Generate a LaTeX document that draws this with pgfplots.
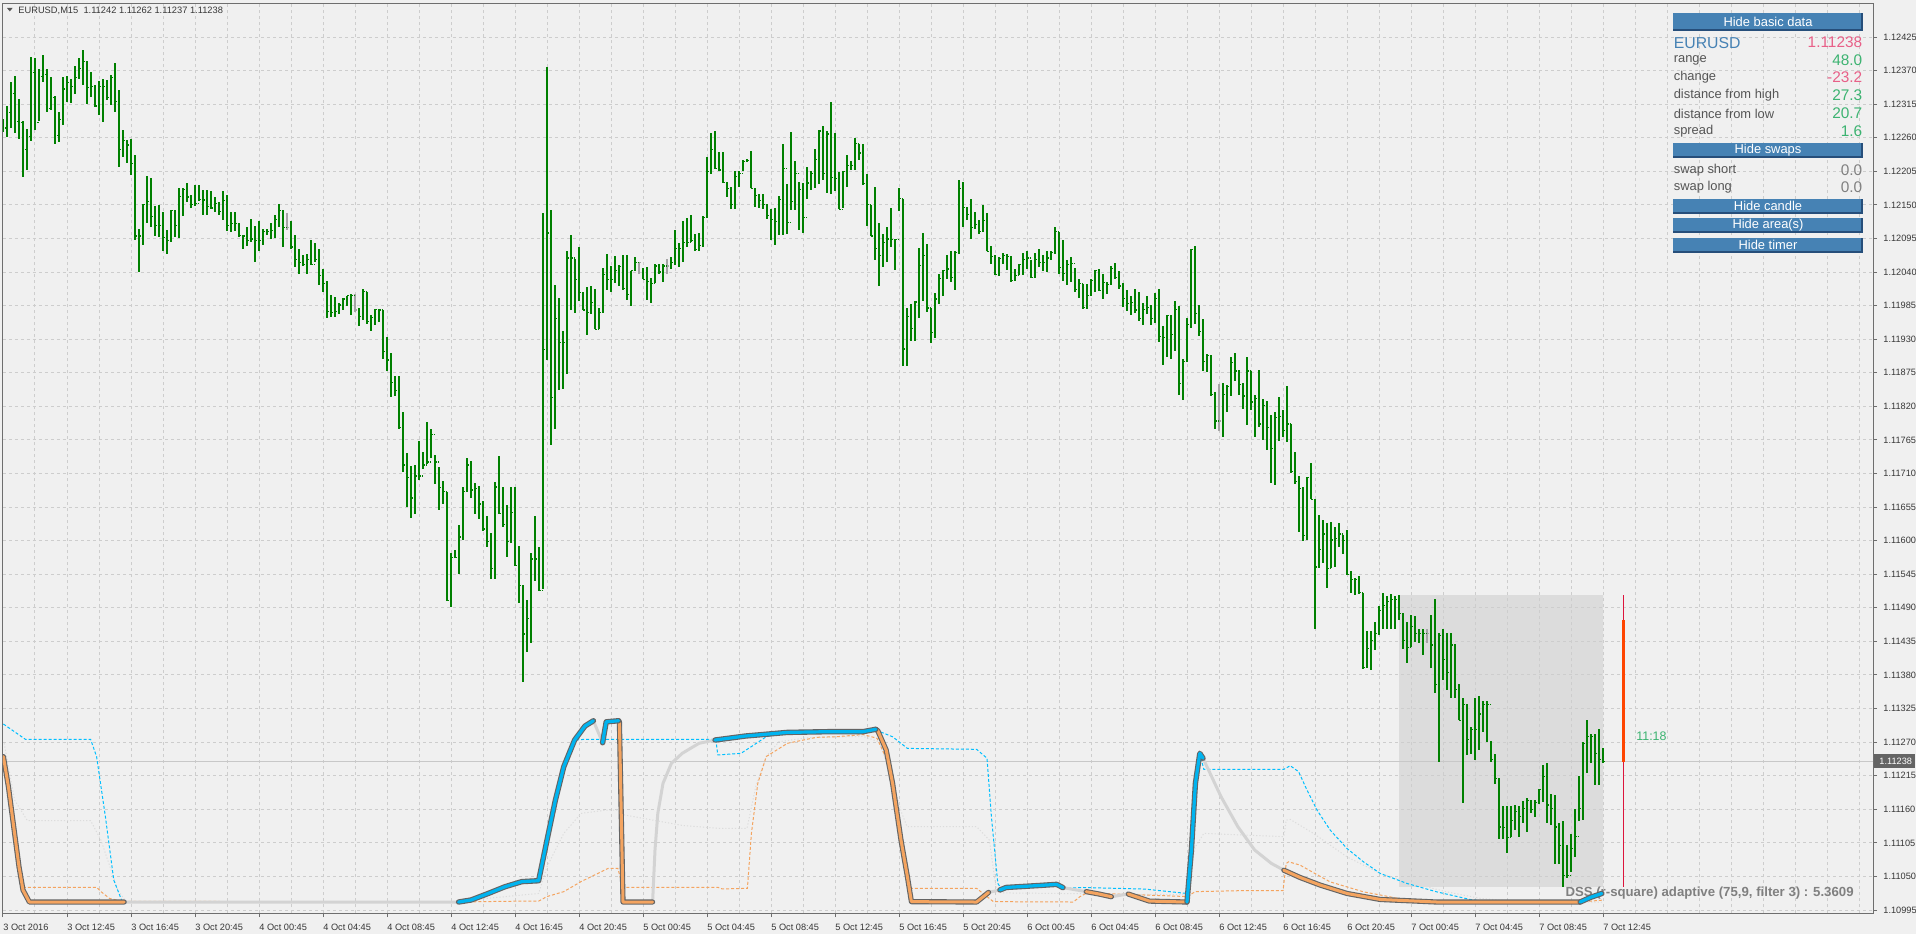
\documentclass[border=0pt]{standalone}
\usepackage{pgfplots}
\pgfplotsset{compat=1.18}
\usepackage{pgfplotstable}
\usepackage{fontspec}
\setmainfont{Liberation Sans}

\definecolor{bg}{RGB}{240,240,240}
\definecolor{gridc}{RGB}{205,205,205}
\definecolor{framec}{RGB}{110,110,110}
\definecolor{barg}{RGB}{0,128,0}
\definecolor{dojig}{RGB}{165,165,165}
\definecolor{areac}{RGB}{220,220,220}
\definecolor{pricel}{RGB}{200,200,200}
\definecolor{crim}{RGB}{220,20,60}
\definecolor{ored}{RGB}{255,69,0}
\definecolor{dssorange}{RGB}{244,164,96}
\definecolor{dssblue}{RGB}{0,180,240}
\definecolor{dssgray}{RGB}{211,211,211}
\definecolor{dssout}{RGB}{100,100,100}
\definecolor{cyand}{RGB}{0,191,255}
\definecolor{txt}{RGB}{55,55,55}
\definecolor{btnb}{RGB}{70,130,180}
\definecolor{btnd}{RGB}{38,78,122}
\definecolor{pinkv}{RGB}{232,96,136}
\definecolor{greenv}{RGB}{60,179,113}
\definecolor{labc}{RGB}{85,85,85}
\definecolor{dsstext}{RGB}{128,128,128}
\definecolor{pricebox}{RGB}{100,100,100}

\pgfdeclareplotmark{rtick}{\pgfpathmoveto{\pgfpointorigin}\pgfpathlineto{\pgfpoint{0.75pt}{0pt}}\pgfusepathqstroke}
\pgfdeclareplotmark{ltick}{\pgfpathmoveto{\pgfpointorigin}\pgfpathlineto{\pgfpoint{-0.75pt}{0pt}}\pgfusepathqstroke}

% EURUSD M15 bars: index, high, low, close
\pgfplotstableread{
k h l c
0 1.12290 1.12269 1.12276
1 1.12312 1.12262 1.12301
2 1.12352 1.12276 1.12333
3 1.12361 1.12268 1.12287
4 1.12324 1.12258 1.12285
5 1.12287 1.12196 1.12241
6 1.12274 1.12207 1.12262
7 1.12393 1.12255 1.12367
8 1.12390 1.12273 1.12285
9 1.12372 1.12287 1.12360
10 1.12395 1.12351 1.12363
11 1.12372 1.12302 1.12308
12 1.12359 1.12305 1.12326
13 1.12329 1.12250 1.12264
14 1.12302 1.12253 1.12290
15 1.12359 1.12281 1.12340
16 1.12361 1.12319 1.12351
17 1.12356 1.12317 1.12344
18 1.12378 1.12331 1.12359
19 1.12390 1.12356 1.12373
20 1.12404 1.12347 1.12385
21 1.12386 1.12315 1.12342
22 1.12367 1.12327 1.12344
23 1.12347 1.12310 1.12312
24 1.12353 1.12298 1.12344
25 1.12356 1.12285 1.12344
26 1.12354 1.12321 1.12326
27 1.12363 1.12314 1.12359
28 1.12383 1.12302 1.12319
29 1.12338 1.12212 1.12241
30 1.12273 1.12228 1.12255
31 1.12256 1.12219 1.12248
32 1.12258 1.12199 1.12218
33 1.12231 1.12092 1.12099
34 1.12111 1.12040 1.12099
35 1.12152 1.12084 1.12150
36 1.12197 1.12120 1.12155
37 1.12194 1.12113 1.12131
38 1.12148 1.12099 1.12116
39 1.12150 1.12097 1.12116
40 1.12139 1.12075 1.12097
41 1.12109 1.12069 1.12092
42 1.12141 1.12090 1.12141
43 1.12141 1.12097 1.12116
44 1.12178 1.12095 1.12164
45 1.12177 1.12132 1.12175
46 1.12186 1.12155 1.12163
47 1.12167 1.12145 1.12150
48 1.12182 1.12148 1.12152
49 1.12182 1.12157 1.12159
50 1.12175 1.12133 1.12158
51 1.12175 1.12133 1.12148
52 1.12173 1.12143 1.12145
53 1.12163 1.12139 1.12152
54 1.12155 1.12134 1.12139
55 1.12172 1.12126 1.12157
56 1.12166 1.12108 1.12116
57 1.12138 1.12106 1.12120
58 1.12138 1.12108 1.12119
59 1.12120 1.12097 1.12100
60 1.12101 1.12077 1.12099
61 1.12113 1.12083 1.12092
62 1.12127 1.12090 1.12094
63 1.12115 1.12056 1.12092
64 1.12124 1.12075 1.12092
65 1.12111 1.12084 1.12106
66 1.12111 1.12101 1.12106
67 1.12120 1.12094 1.12108
68 1.12134 1.12095 1.12126
69 1.12152 1.12113 1.12141
70 1.12141 1.12081 1.12113
72 1.12124 1.12077 1.12081
73 1.12101 1.12049 1.12060
74 1.12077 1.12037 1.12056
75 1.12068 1.12051 1.12052
76 1.12070 1.12036 1.12061
77 1.12092 1.12052 1.12052
78 1.12088 1.12056 1.12061
79 1.12077 1.12019 1.12035
80 1.12045 1.12008 1.12021
81 1.12025 1.11964 1.11976
82 1.12003 1.11966 1.11974
83 1.11999 1.11967 1.11976
84 1.11989 1.11971 1.11986
85 1.11998 1.11978 1.11996
86 1.12001 1.11984 1.12001
87 1.12004 1.11969 1.12001
89 1.11981 1.11951 1.11967
90 1.12012 1.11962 1.12008
91 1.12008 1.11955 1.11959
92 1.11969 1.11944 1.11965
93 1.11980 1.11953 1.11979
94 1.11980 1.11959 1.11978
95 1.11978 1.11898 1.11910
96 1.11933 1.11878 1.11896
97 1.11907 1.11836 1.11859
98 1.11870 1.11837 1.11846
99 1.11870 1.11783 1.11786
100 1.11811 1.11713 1.11724
101 1.11743 1.11655 1.11704
102 1.11722 1.11637 1.11670
103 1.11724 1.11644 1.11706
104 1.11763 1.11699 1.11706
105 1.11746 1.11717 1.11724
106 1.11795 1.11726 1.11729
107 1.11783 1.11736 1.11774
108 1.11740 1.11692 1.11729
109 1.11720 1.11651 1.11687
110 1.11697 1.11660 1.11680
111 1.11680 1.11501 1.11502
112 1.11579 1.11491 1.11573
113 1.11584 1.11571 1.11573
114 1.11626 1.11545 1.11606
115 1.11688 1.11601 1.11680
116 1.11735 1.11680 1.11724
117 1.11731 1.11670 1.11683
118 1.11694 1.11643 1.11685
119 1.11690 1.11635 1.11660
120 1.11665 1.11616 1.11619
121 1.11641 1.11589 1.11598
122 1.11612 1.11537 1.11555
123 1.11696 1.11537 1.11688
124 1.11738 1.11644 1.11644
125 1.11688 1.11623 1.11626
126 1.11658 1.11574 1.11598
127 1.11688 1.11596 1.11646
128 1.11688 1.11559 1.11559
129 1.11592 1.11498 1.11527
130 1.11527 1.11368 1.11447
131 1.11502 1.11417 1.11472
132 1.11579 1.11433 1.11570
133 1.11641 1.11534 1.11570
134 1.11589 1.11518 1.11518
135 1.12136 1.11520 1.11913
136 1.12376 1.11896 1.12104
137 1.12141 1.11756 1.11835
138 1.12019 1.11783 1.11964
139 1.11998 1.11846 1.11925
140 1.11944 1.11848 1.11925
141 1.12074 1.11873 1.12063
142 1.12100 1.11978 1.12063
143 1.12061 1.11973 1.12028
144 1.12081 1.11992 1.12006
145 1.12008 1.11978 1.11978
146 1.12015 1.11937 1.11974
147 1.12017 1.11971 1.11990
148 1.12013 1.11946 1.11946
149 1.11981 1.11946 1.11974
150 1.12046 1.11973 1.12036
151 1.12069 1.12010 1.12028
152 1.12050 1.12008 1.12028
153 1.12067 1.12022 1.12043
154 1.12051 1.12017 1.12049
155 1.12068 1.12010 1.12013
156 1.12068 1.11994 1.12003
157 1.12042 1.11985 1.12042
158 1.12065 1.12042 1.12055
160 1.12047 1.12028 1.12028
161 1.12049 1.11994 1.12024
162 1.12031 1.11990 1.12021
163 1.12053 1.12022 1.12050
164 1.12053 1.12037 1.12040
165 1.12053 1.12023 1.12050
167 1.12065 1.12045 1.12055
168 1.12109 1.12051 1.12079
169 1.12088 1.12049 1.12079
170 1.12123 1.12057 1.12089
171 1.12128 1.12081 1.12089
172 1.12134 1.12090 1.12092
173 1.12102 1.12074 1.12077
174 1.12104 1.12074 1.12084
175 1.12131 1.12081 1.12129
176 1.12229 1.12129 1.12205
177 1.12267 1.12200 1.12241
178 1.12271 1.12209 1.12210
179 1.12237 1.12205 1.12207
180 1.12237 1.12186 1.12187
181 1.12187 1.12163 1.12177
182 1.12180 1.12143 1.12150
183 1.12205 1.12143 1.12197
184 1.12206 1.12180 1.12202
185 1.12223 1.12205 1.12221
186 1.12225 1.12220 1.12223
187 1.12239 1.12177 1.12177
188 1.12177 1.12147 1.12166
189 1.12168 1.12145 1.12157
190 1.12168 1.12143 1.12150
191 1.12152 1.12127 1.12133
192 1.12143 1.12092 1.12126
193 1.12145 1.12084 1.12123
194 1.12165 1.12101 1.12159
195 1.12250 1.12101 1.12210
196 1.12184 1.12102 1.12121
197 1.12269 1.12141 1.12155
198 1.12222 1.12141 1.12202
199 1.12187 1.12109 1.12175
200 1.12186 1.12104 1.12129
201 1.12212 1.12159 1.12186
202 1.12205 1.12175 1.12202
203 1.12241 1.12177 1.12225
204 1.12273 1.12184 1.12271
205 1.12280 1.12191 1.12202
206 1.12271 1.12170 1.12266
207 1.12319 1.12168 1.12195
208 1.12267 1.12173 1.12193
209 1.12204 1.12143 1.12143
210 1.12205 1.12145 1.12205
211 1.12232 1.12179 1.12214
212 1.12222 1.12207 1.12214
213 1.12259 1.12207 1.12250
214 1.12250 1.12223 1.12235
215 1.12250 1.12184 1.12185
216 1.12200 1.12115 1.12150
217 1.12150 1.12099 1.12099
218 1.12179 1.12060 1.12079
219 1.12120 1.12017 1.12067
220 1.12102 1.12049 1.12088
221 1.12113 1.12056 1.12094
222 1.12145 1.12081 1.12093
223 1.12094 1.12044 1.12093
224 1.12177 1.12140 1.12160
225 1.12159 1.11886 1.11914
226 1.11981 1.11886 1.11967
227 1.11987 1.11927 1.11948
228 1.11992 1.11927 1.11991
229 1.12079 1.11964 1.12051
230 1.12104 1.11992 1.12067
231 1.12086 1.11974 1.11981
232 1.11981 1.11923 1.11941
233 1.12006 1.11932 1.11996
234 1.12037 1.11987 1.12029
235 1.12044 1.12001 1.12042
236 1.12068 1.12028 1.12045
237 1.12074 1.12023 1.12031
238 1.12074 1.12010 1.12072
239 1.12190 1.12070 1.12177
240 1.12187 1.12113 1.12146
241 1.12146 1.12126 1.12134
242 1.12159 1.12094 1.12113
243 1.12138 1.12111 1.12118
244 1.12125 1.12102 1.12106
245 1.12150 1.12106 1.12125
246 1.12136 1.12074 1.12074
247 1.12082 1.12053 1.12065
248 1.12068 1.12035 1.12036
249 1.12065 1.12033 1.12062
250 1.12072 1.12053 1.12067
251 1.12070 1.12043 1.12065
252 1.12067 1.12025 1.12026
253 1.12045 1.12025 1.12035
254 1.12054 1.12035 1.12053
255 1.12072 1.12035 1.12060
256 1.12074 1.12045 1.12063
257 1.12060 1.12031 1.12031
258 1.12072 1.12031 1.12060
259 1.12077 1.12049 1.12056
260 1.12068 1.12042 1.12055
261 1.12074 1.12040 1.12063
262 1.12074 1.12060 1.12072
263 1.12113 1.12070 1.12106
264 1.12106 1.12037 1.12047
265 1.12092 1.12026 1.12037
266 1.12060 1.12019 1.12053
267 1.12065 1.12024 1.12054
268 1.12046 1.12008 1.12012
269 1.12028 1.11998 1.12021
270 1.12020 1.11980 1.11982
271 1.12021 1.11980 1.12001
272 1.12028 1.12000 1.12026
273 1.12044 1.12008 1.12042
274 1.12045 1.12009 1.12010
275 1.12037 1.11996 1.12023
276 1.12024 1.12004 1.12020
277 1.12050 1.12018 1.12046
278 1.12055 1.12028 1.12031
279 1.12042 1.12012 1.12017
280 1.12022 1.11982 1.11997
281 1.12011 1.11976 1.11989
282 1.12001 1.11969 1.11990
283 1.12012 1.11973 1.11978
284 1.12007 1.11960 1.11964
285 1.11990 1.11953 1.11979
286 1.12000 1.11972 1.11982
287 1.11986 1.11954 1.11964
288 1.12005 1.11957 1.11997
289 1.12012 1.11926 1.11934
290 1.11952 1.11888 1.11933
291 1.11969 1.11901 1.11969
292 1.11970 1.11898 1.11938
293 1.11993 1.11910 1.11979
294 1.11985 1.11838 1.11858
295 1.11897 1.11830 1.11894
296 1.11964 1.11893 1.11954
297 1.12077 1.11949 1.12077
298 1.12083 1.11955 1.11972
299 1.11986 1.11936 1.11942
300 1.11963 1.11878 1.11894
301 1.11905 1.11876 1.11903
302 1.11904 1.11837 1.11840
303 1.11843 1.11783 1.11796
305 1.11859 1.11769 1.11840
306 1.11855 1.11810 1.11853
307 1.11901 1.11837 1.11892
308 1.11908 1.11862 1.11878
309 1.11880 1.11838 1.11856
310 1.11858 1.11816 1.11837
311 1.11901 1.11789 1.11878
312 1.11878 1.11814 1.11827
313 1.11839 1.11769 1.11833
314 1.11880 1.11787 1.11791
315 1.11832 1.11765 1.11822
316 1.11828 1.11749 1.11786
317 1.11806 1.11695 1.11751
318 1.11811 1.11691 1.11802
319 1.11836 1.11764 1.11804
320 1.11814 1.11769 1.11780
321 1.11853 1.11761 1.11791
322 1.11791 1.11712 1.11713
323 1.11745 1.11692 1.11697
324 1.11706 1.11614 1.11685
325 1.11688 1.11600 1.11609
326 1.11705 1.11601 1.11704
327 1.11728 1.11668 1.11668
328 1.11668 1.11456 1.11557
329 1.11642 1.11555 1.11585
330 1.11634 1.11563 1.11611
331 1.11629 1.11523 1.11555
332 1.11631 1.11556 1.11601
333 1.11623 1.11557 1.11604
334 1.11629 1.11589 1.11611
335 1.11609 1.11578 1.11600
336 1.11617 1.11544 1.11545
337 1.11550 1.11515 1.11537
338 1.11539 1.11511 1.11536
339 1.11542 1.11514 1.11515
340 1.11515 1.11391 1.11392
341 1.11452 1.11391 1.11423
342 1.11452 1.11388 1.11437
343 1.11467 1.11421 1.11448
344 1.11493 1.11445 1.11485
345 1.11514 1.11456 1.11494
346 1.11510 1.11456 1.11500
347 1.11512 1.11455 1.11503
348 1.11510 1.11456 1.11503
349 1.11511 1.11470 1.11481
350 1.11481 1.11423 1.11437
351 1.11467 1.11399 1.11425
352 1.11478 1.11426 1.11460
353 1.11476 1.11434 1.11448
354 1.11456 1.11432 1.11448
355 1.11456 1.11413 1.11448
357 1.11478 1.11391 1.11429
358 1.11505 1.11350 1.11365
359 1.11448 1.11238 1.11445
360 1.11456 1.11372 1.11405
361 1.11448 1.11355 1.11384
362 1.11449 1.11343 1.11429
363 1.11431 1.11343 1.11356
364 1.11366 1.11306 1.11306
365 1.11343 1.11170 1.11332
366 1.11333 1.11249 1.11274
367 1.11294 1.11250 1.11291
368 1.11343 1.11241 1.11291
369 1.11345 1.11257 1.11316
370 1.11338 1.11287 1.11332
371 1.11338 1.11271 1.11332
372 1.11272 1.11238 1.11241
373 1.11250 1.11202 1.11211
374 1.11211 1.11112 1.11131
375 1.11165 1.11112 1.11130
376 1.11165 1.11089 1.11114
377 1.11165 1.11115 1.11142
378 1.11167 1.11126 1.11156
379 1.11165 1.11115 1.11148
380 1.11174 1.11137 1.11161
381 1.11179 1.11123 1.11175
382 1.11176 1.11154 1.11160
383 1.11175 1.11147 1.11171
384 1.11193 1.11169 1.11193
385 1.11232 1.11172 1.11214
386 1.11236 1.11137 1.11167
387 1.11185 1.11134 1.11161
388 1.11183 1.11071 1.11131
389 1.11137 1.11070 1.11101
390 1.11141 1.11032 1.11051
391 1.11101 1.11048 1.11052
392 1.11120 1.11058 1.11096
393 1.11161 1.11082 1.11115
394 1.11214 1.11141 1.11161
395 1.11271 1.11142 1.11268
396 1.11307 1.11220 1.11279
397 1.11283 1.11235 1.11279
398 1.11284 1.11200 1.11251
399 1.11291 1.11200 1.11241
400 1.11261 1.11237 1.11238
}\bars

\pgfplotstableread{
k h l c
71 1.12136 1.12109 1.12113
88 1.12004 1.11974 1.11978
159 1.12056 1.12036 1.12055
166 1.12062 1.12036 1.12050
304 1.11856 1.11779 1.11796
356 1.11455 1.11432 1.11448
}\dojis

% DSS (r-square) adaptive main line
\pgfplotstableread{
k v
0.1 79.9
1.35 63.4
2.9 37.7
4 19.4
5 6.6
6.6 0
30.3 0
113.9 0
117 1.1
121.3 4.7
125.5 8.4
129.7 11.2
133.9 11.7
136 34
138.1 56
140.2 74.4
142.9 89
145.5 96.7
147.6 99.6
149.9 87.5
150.8 99
153.9 99.6
154.1 99
155 0
162.4 0
163 28.6
163.7 48.7
165 65.2
167.1 76.2
169.8 81.7
174 87.2
178 89
185.6 91.2
196.1 93.2
206.6 93.6
215 93.6
218.2 94.9
218.7 94.1
220.8 83.5
222.4 65.2
224.5 34
226.1 13.9
227.1 0.2
243.4 0
246.4 5.3
249.2 6.6
250.8 8
259.2 9.1
263.4 9.7
265 7.9
270.8 5.7
274 4.4
277.1 2.9
281.3 4.4
286.6 0.5
296 0
297.1 28.6
298.1 65.2
299.2 81.7
300 79
304.5 57.9
308.7 41.4
312.9 28.6
317.1 21.2
320.2 17.5
324.25 13.5
329.3 9.3
336 4.7
344.3 1.4
358.4 0
394.3 0
396.8 2.5
399.7 4.7
}\dssline

\pgfplotstableread{
k v
0.1 97.8
5.6 89.4
21.9 89.4
23.4 79.9
25.6 46.9
27.7 12
29.8 0.2
113.9 0
117 1.1
121.3 4.7
125.5 8.4
129.7 11.2
133.9 11.7
136 34
138.1 56
140.2 74.4
142.9 89
145.5 89.4
178.2 89.4
178.7 80.8
184.5 81.7
187.1 85.4
190.8 90.8
196.1 93.2
206.6 93.6
215 93.6
218.2 94.9
219.2 93.6
222.4 90.8
226.1 84.4
243.4 83.9
246 79
247.1 46.9
248.7 10.2
249.8 6.6
259.2 9.1
263.4 9.7
265.5 7.5
269.7 8
285.5 7.1
296 4.7
297.1 28.6
298.1 65.2
299.2 81.7
300.2 72.9
320.2 72.9
321.8 74.9
323.9 71.6
326 61.5
328.5 50.5
331.8 39.5
336 29.4
340.1 22.1
344.3 15.7
351 10.2
358.4 5.6
366.75 1.4
372 0
394.3 0
399.7 4.7
}\upband

\pgfplotstableread{
k v
0.1 78
3 40
4.6 8.1
23.4 8.1
24.5 5.7
26.6 2
29.8 0.4
113.9 0
125.5 0.4
133.9 0.5
136 3
140.2 5.7
144.5 11.2
148.7 15.7
151.3 18.5
153.7 18.5
155 8.1
178.7 8.1
179.8 7.2
186.1 7.5
187.1 37.7
188.7 65.2
190.8 79.9
196.1 87.2
203.4 90.5
208.2 90.8
215 92
218.5 90
221 78
224 40
226.5 8
227.1 7.5
243.4 7.5
247.6 0.2
267.6 0
269.2 2.9
271 5
296 3
298.1 5.7
308.7 6.2
320 6.2
320.8 21.2
321.4 22.1
324.25 20.3
327.8 15.9
331.75 11.1
340.1 5.6
350 1.5
358 0
394 0
399.7 1
}\lowband

\pgfplotstableread{
k v
0.3 87.2
2.9 56
6.1 44.7
21.9 44.7
24.5 34
28.7 6.6
30.8 0
113.9 0
116.6 1.1
133.9 4.7
136 19.4
140.2 37.7
144.5 48.7
150.8 50.5
153.7 50.5
155 48
170 42
178.7 40.5
186 40.5
188.2 63.4
190.8 80
194 88.1
201.3 90.3
215 91
219 88
222 70
224.5 50
226 41.4
243.4 41.4
246.6 34
248.2 8.4
250 5
296 4
298 30
300.2 37.7
320.2 35.9
320.8 45
321.8 45.4
327.6 37.7
336 24.8
344.3 15.7
352.6 10.2
360.9 5.6
369.3 2
380 0
399.7 0
}\sigline

\pgfplotsset{
  dssO/.style={dssorange, line width=1.5pt, line join=round, line cap=round, preaction={draw=dssout, line width=2.6pt, line cap=round, line join=round}},
  dssB/.style={dssblue, line width=1.6pt, line join=round, line cap=round, preaction={draw=dssout, line width=2.7pt, line cap=round, line join=round}},
  overlay axis/.style={at={(1.5pt,10.5pt)}, anchor=south west, width=935pt, height=455pt, scale only axis, xmin=0, xmax=467.5},
}

\begin{document}
\begin{tikzpicture}
\useasboundingbox (0,0) rectangle (958pt,467pt);
\fill[bg] (0,0) rectangle (958pt,467pt);

% shaded selection area (under the grid)
\begin{axis}[overlay axis, ymin=1.109901, ymax=1.124807, hide axis]
\addplot[fill=areac, draw=none] coordinates {(349,1.11033) (400,1.11033) (400,1.11511) (349,1.11511) (349,1.11033)};
\end{axis}

\begin{axis}[
  overlay axis,
  ymin=1.109901, ymax=1.124807,
  axis line style={framec, line width=0.5pt},
  tick style={framec, line width=0.5pt},
  tick align=outside, major tick length=2pt,
  xtick pos=bottom, ytick pos=right, yticklabel pos=right,
  xtick={0,16,...,400},
  xticklabels={3 Oct 2016,3 Oct 12:45,3 Oct 16:45,3 Oct 20:45,4 Oct 00:45,4 Oct 04:45,4 Oct 08:45,4 Oct 12:45,4 Oct 16:45,4 Oct 20:45,5 Oct 00:45,5 Oct 04:45,5 Oct 08:45,5 Oct 12:45,5 Oct 16:45,5 Oct 20:45,6 Oct 00:45,6 Oct 04:45,6 Oct 08:45,6 Oct 12:45,6 Oct 16:45,6 Oct 20:45,7 Oct 00:45,7 Oct 04:45,7 Oct 08:45,7 Oct 12:45},
  extra x ticks={8,24,40,56,72,88,104,120,136,152,168,184,200,216,232,248,264,280,296,312,328,344,360,376,392,408,416,424,432,440,448,456,464},
  extra x tick labels={},
  extra x tick style={xmajorgrids=true, major tick length=0pt},
  ytick={1.10995,1.11050,1.11105,1.11160,1.11215,1.11270,1.11325,1.11380,1.11435,1.11490,1.11545,1.11600,1.11655,1.11710,1.11765,1.11820,1.11875,1.11930,1.11985,1.12040,1.12095,1.12150,1.12205,1.12260,1.12315,1.12370,1.12425},
  yticklabels={1.10995,1.11050,1.11105,1.11160,1.11215,1.11270,1.11325,1.11380,1.11435,1.11490,1.11545,1.11600,1.11655,1.11710,1.11765,1.11820,1.11875,1.11930,1.11985,1.12040,1.12095,1.12150,1.12205,1.12260,1.12315,1.12370,1.12425},
  scaled y ticks=false,
  xmajorgrids, ymajorgrids,
  major grid style={gridc, line width=0.5pt, dash pattern=on 1.6pt off 1.4pt},
  xticklabel style={anchor=west, inner sep=0pt, yshift=-5pt, font=\fontsize{4.6}{5}\selectfont, text=txt},
  yticklabel style={anchor=west, inner sep=0pt, xshift=3pt, font=\fontsize{4.6}{5}\selectfont, text=txt},
]
% current price line
\addplot[pricel, line width=0.5pt] coordinates {(0,1.11238) (467.5,1.11238)};
% bars: high-low with close tick
\addplot[barg, only marks, mark=rtick, mark options={line width=0.6pt},
  error bars/.cd, y dir=both, y explicit, error mark=none,
  error bar style={barg, line width=0.6pt}]
  table[x=k, y=c, y error plus expr=\thisrow{h}-\thisrow{c}, y error minus expr=\thisrow{c}-\thisrow{l}] {\bars};
\addplot[barg, only marks, mark=ltick, mark options={line width=0.6pt}, restrict x to domain=0:400]
  table[x expr=\thisrow{k}+1, y=c] {\bars};
\addplot[dojig, only marks, mark=rtick, mark options={line width=0.6pt},
  error bars/.cd, y dir=both, y explicit, error mark=none,
  error bar style={dojig, line width=0.6pt}]
  table[x=k, y=c, y error plus expr=\thisrow{h}-\thisrow{c}, y error minus expr=\thisrow{c}-\thisrow{l}] {\dojis};
% timer bar
\addplot[crim, line width=0.5pt] coordinates {(405,1.11033) (405,1.11511)};
\addplot[ored, line width=1.5pt] coordinates {(405,1.11238) (405,1.11470)};
\end{axis}

% indicator label (drawn under the indicator line)
\node[anchor=east, inner sep=0pt, text=dsstext, font=\fontsize{6.6}{7}\selectfont\bfseries] at (927pt,20.6pt) {DSS (r-square) adaptive (75,9, filter 3) : 5.3609};

\begin{axis}[overlay axis, ymin=-6.04, ymax=493.96, hide axis]
\addplot[dssgray!80, line width=0.5pt, dash pattern=on 0.6pt off 1pt] table[x=k,y=v] {\sigline};
\addplot[cyand, line width=0.5pt, dash pattern=on 1.5pt off 1pt] table[x=k,y=v] {\upband};
\addplot[dssorange, line width=0.5pt, dash pattern=on 1.5pt off 1pt] table[x=k,y=v] {\lowband};
\addplot[dssgray, line width=1.5pt, line join=round] table[x=k,y=v] {\dssline};
\addplot[dssO, restrict x to domain=0:30.3] table[x=k,y=v] {\dssline};
\addplot[dssO, restrict x to domain=153.9:162.4] table[x=k,y=v] {\dssline};
\addplot[dssO, restrict x to domain=218.2:246.4] table[x=k,y=v] {\dssline};
\addplot[dssO, restrict x to domain=270.8:277.1] table[x=k,y=v] {\dssline};
\addplot[dssO, restrict x to domain=281.3:296] table[x=k,y=v] {\dssline};
\addplot[dssO, restrict x to domain=320.2:394.3] table[x=k,y=v] {\dssline};
\addplot[dssB, restrict x to domain=113.9:147.6] table[x=k,y=v] {\dssline};
\addplot[dssB, restrict x to domain=149.9:153.9] table[x=k,y=v] {\dssline};
\addplot[dssB, restrict x to domain=178:218.2] table[x=k,y=v] {\dssline};
\addplot[dssB, restrict x to domain=249.2:265] table[x=k,y=v] {\dssline};
\addplot[dssB, restrict x to domain=296:300] table[x=k,y=v] {\dssline};
\addplot[dssB, restrict x to domain=394.3:399.7] table[x=k,y=v] {\dssline};
\end{axis}

% timer text
\node[anchor=west, inner sep=0pt, text=greenv, font=\fontsize{6.2}{7}\selectfont] at (818pt,99pt) {11:18};
% current price label on the scale
\fill[pricebox] (937pt,83.2pt) rectangle (957.5pt,89.8pt);
\node[anchor=west, inner sep=0pt, text=white, font=\fontsize{4.6}{5}\selectfont] at (939.5pt,86.5pt) {1.11238};

% title
\fill[labc] (3.5pt,463pt) -- (6.3pt,463pt) -- (4.9pt,461.3pt) -- cycle;
\node[anchor=west, inner sep=0pt, text=txt, font=\fontsize{4.65}{5}\selectfont] at (9pt,461.5pt) {EURUSD,M15\ \ 1.11242 1.11262 1.11237 1.11238};

% info panel
\newcommand{\btn}[3]{%
  \fill[btnd] (836.5pt,#1) rectangle (931.5pt,#2);
  \fill[btnb] (836.5pt,{#1+0.9pt}) rectangle (930.6pt,#2);
  \node[text=white, inner sep=0pt, font=\fontsize{6.45}{7}\selectfont] at (884pt,{(#1+#2)/2+0.3pt}) {#3};}
\btn{451.5pt}{460.5pt}{Hide basic data}
\btn{388pt}{395.5pt}{Hide swaps}
\btn{360pt}{367.5pt}{Hide candle}
\btn{350.5pt}{358pt}{Hide area(s)}
\btn{340.5pt}{348pt}{Hide timer}

\node[anchor=west, inner sep=0pt, text=btnb, font=\fontsize{7.9}{9}\selectfont] at (836.7pt,445.7pt) {EURUSD};
\node[anchor=east, inner sep=0pt, text=pinkv, font=\fontsize{7.7}{9}\selectfont] at (931.3pt,445.7pt) {1.11238};
\node[anchor=west, inner sep=0pt, text=labc, font=\fontsize{6.45}{7}\selectfont] at (836.7pt,437pt) {range};
\node[anchor=east, inner sep=0pt, text=greenv, font=\fontsize{7.7}{9}\selectfont] at (931.3pt,437pt) {48.0};
\node[anchor=west, inner sep=0pt, text=labc, font=\fontsize{6.45}{7}\selectfont] at (836.7pt,428.2pt) {change};
\node[anchor=east, inner sep=0pt, text=pinkv, font=\fontsize{7.7}{9}\selectfont] at (931.3pt,428.2pt) {-23.2};
\node[anchor=west, inner sep=0pt, text=labc, font=\fontsize{6.45}{7}\selectfont] at (836.7pt,419.2pt) {distance from high};
\node[anchor=east, inner sep=0pt, text=greenv, font=\fontsize{7.7}{9}\selectfont] at (931.3pt,419.2pt) {27.3};
\node[anchor=west, inner sep=0pt, text=labc, font=\fontsize{6.45}{7}\selectfont] at (836.7pt,410.3pt) {distance from low};
\node[anchor=east, inner sep=0pt, text=greenv, font=\fontsize{7.7}{9}\selectfont] at (931.3pt,410.3pt) {20.7};
\node[anchor=west, inner sep=0pt, text=labc, font=\fontsize{6.45}{7}\selectfont] at (836.7pt,401.5pt) {spread};
\node[anchor=east, inner sep=0pt, text=greenv, font=\fontsize{7.7}{9}\selectfont] at (931.3pt,401.5pt) {1.6};
\node[anchor=west, inner sep=0pt, text=labc, font=\fontsize{6.45}{7}\selectfont] at (836.7pt,382pt) {swap short};
\node[anchor=east, inner sep=0pt, text=dsstext, font=\fontsize{7.7}{9}\selectfont] at (931.3pt,382pt) {0.0};
\node[anchor=west, inner sep=0pt, text=labc, font=\fontsize{6.45}{7}\selectfont] at (836.7pt,373.2pt) {swap long};
\node[anchor=east, inner sep=0pt, text=dsstext, font=\fontsize{7.7}{9}\selectfont] at (931.3pt,373.2pt) {0.0};
\end{tikzpicture}
\end{document}
